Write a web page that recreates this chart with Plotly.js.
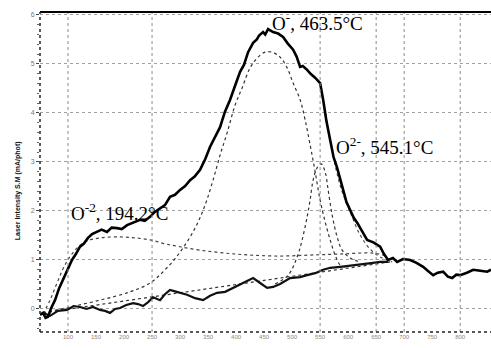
<!DOCTYPE html>
<html>
<head>
<meta charset="utf-8">
<script src="https://cdn.plot.ly/plotly-3.0.1.min.js"></script>
<style>
  html, body { margin: 0; padding: 0; background: #fff; }
  #chart { width: 491px; height: 348px; }
</style>
</head>
<body>
<div id="chart"></div>
<script>
// Temperature-programmed desorption of oxygen species: measured signal with peak fits.

// Measured total signal (upper trace)
const measT = [50, 55.4, 60, 64.3, 70, 76.8, 84, 91.1, 99, 107.1, 114, 121.4, 128, 135.7, 143, 151.8, 160, 169.6, 178, 187.5, 196, 205.4, 216, 228.6, 237, 246.4, 255, 264.3, 273, 282.1, 291, 300, 309, 317.9, 326, 335.7, 345, 353.6, 362, 371.4, 380, 389.3, 398, 407.1, 414, 421.4, 430.4, 437, 441, 448.2, 452, 457.1, 466.1, 475, 483.9, 492, 501.8, 508, 514.3, 519, 526.8, 533, 541, 550, 555.4, 561, 567.9, 574, 580.4, 586, 591.1, 597, 603.6, 610, 616.1, 625, 633.9, 645, 657.1, 664, 671.4, 680, 687.5, 698, 710.7, 722, 733.9, 742, 751.8, 760, 769.6, 778, 785.7, 793, 800, 812, 823.2, 836, 848.2, 855];
const measV = [-0.12, -0.08, -0.18, -0.16, 0.02, 0.18, 0.42, 0.59, 0.80, 1.00, 1.12, 1.27, 1.33, 1.45, 1.53, 1.57, 1.62, 1.57, 1.66, 1.65, 1.63, 1.71, 1.76, 1.82, 1.80, 1.88, 1.98, 2.06, 2.12, 2.29, 2.33, 2.43, 2.51, 2.63, 2.70, 2.84, 3.06, 3.31, 3.50, 3.71, 4.02, 4.27, 4.55, 4.84, 4.98, 5.24, 5.43, 5.50, 5.58, 5.65, 5.60, 5.71, 5.65, 5.62, 5.55, 5.42, 5.29, 5.15, 4.94, 4.96, 4.88, 4.80, 4.72, 4.61, 4.27, 3.85, 3.45, 3.10, 2.88, 2.62, 2.43, 2.18, 2.02, 1.86, 1.76, 1.58, 1.41, 1.36, 1.27, 1.12, 1.00, 1.04, 0.96, 1.02, 1.00, 0.94, 0.86, 0.78, 0.69, 0.74, 0.76, 0.66, 0.63, 0.70, 0.69, 0.74, 0.80, 0.78, 0.76, 0.80];

// Measured lower trace
const lowT = [55.4, 67.9, 82.1, 98.2, 110, 121.4, 133, 144.6, 157.1, 166, 175, 184, 192.9, 204, 216.1, 225, 233.9, 243, 251.8, 264.3, 273, 282.1, 291, 300, 312.5, 326.8, 341.1, 353.6, 366.1, 380.4, 394.6, 407.1, 419.6, 430.4, 442.9, 455.4, 466.1, 478.6, 496.4, 514.3, 526.8, 541.1, 555.4, 567.9, 585.7, 603.6, 616.1, 630.4, 644.6, 657.1, 671.4];
const lowV = [-0.08, -0.14, -0.04, -0.02, 0.06, 0.04, 0.00, 0.04, -0.02, -0.04, -0.08, 0.00, 0.02, 0.08, 0.12, 0.10, 0.06, 0.14, 0.24, 0.18, 0.30, 0.39, 0.36, 0.33, 0.29, 0.22, 0.18, 0.27, 0.33, 0.35, 0.43, 0.49, 0.57, 0.63, 0.53, 0.43, 0.45, 0.51, 0.63, 0.65, 0.69, 0.73, 0.80, 0.84, 0.86, 0.88, 0.90, 0.92, 0.94, 0.96, 0.96];

// Fitted baseline
const baseT = [55.4, 675];
const baseV = [-0.08, 0.96];

// Fitted O(-2) component, 194.2 °C
const fitAT = [55.4, 67.9, 80.4, 94.6, 112.5, 130.4, 157.1, 192.9, 219.6, 246.4, 273.2, 300, 335.7, 380.4, 425, 478.6, 532.1, 585.7, 644.6, 668];
const fitAV = [-0.10, 0.18, 0.53, 0.90, 1.20, 1.37, 1.45, 1.47, 1.45, 1.41, 1.33, 1.27, 1.20, 1.14, 1.10, 1.08, 1.10, 1.12, 1.14, 1.08];

// Fitted O(-) component, 463.5 °C
const fitBT = [55.4, 103.6, 157.1, 210.7, 246.4, 273.2, 300, 326.8, 344.6, 358.9, 371.4, 383.9, 398.2, 410.7, 425, 439.3, 451.8, 464.3, 478.6, 491.1, 501.8, 514.3, 523.2, 532.1, 541.1, 550, 558.9, 567.9, 576.8, 585.7, 600];
const fitBV = [-0.08, 0.04, 0.18, 0.35, 0.53, 0.80, 1.16, 1.65, 2.12, 2.63, 3.14, 3.59, 4.16, 4.51, 4.92, 5.14, 5.24, 5.24, 5.14, 4.92, 4.61, 4.27, 3.86, 3.35, 2.80, 2.22, 1.78, 1.41, 1.10, 0.90, 0.84];

// Fitted O(2-) component, 545.1 °C
const fitCT = [469.6, 492.9, 508.9, 517.9, 526.8, 532.1, 537.5, 544.6, 551.8, 558.9, 564.3, 571.4, 580.4, 589.3, 603.6, 621.4];
const fitCV = [0.51, 0.69, 1.06, 1.41, 1.88, 2.22, 2.63, 2.88, 2.96, 2.80, 2.43, 1.92, 1.47, 1.20, 1.04, 0.96];

// Fitted envelope on the high-temperature side
const envT = [550, 558.9, 567.9, 578.6, 589.3, 603.6, 621.4, 639.3, 657.1, 678.6];
const envV = [4.57, 4.06, 3.45, 2.84, 2.39, 1.98, 1.51, 1.22, 1.06, 0.96];

// Axis ticks and grid positions
const xTicks = [100, 150, 200, 250, 300, 350, 400, 450, 500, 550, 600, 650, 700, 750, 800, 850];
const yTicks = [0, 1, 2, 3, 4, 5, 6];
const yTickText = ['0', '1', '2', '3', '4', '5', '6'];
const xGrid = [100, 250, 550, 650, 700, 800];

const traces = [
  { x: baseT, y: baseV, mode: 'lines', line: { color: '#333', width: 1.2, dash: 'dot' } },
  { x: fitAT, y: fitAV, mode: 'lines', line: { color: '#444', width: 1.2, dash: 'dot', shape: 'spline' } },
  { x: fitBT, y: fitBV, mode: 'lines', line: { color: '#333', width: 1.2, dash: 'dot', shape: 'spline' } },
  { x: fitCT, y: fitCV, mode: 'lines', line: { color: '#333', width: 1.2, dash: 'dot', shape: 'spline' } },
  { x: envT, y: envV, mode: 'lines', line: { color: '#444', width: 1.1, dash: 'dot', shape: 'spline' } },
  { x: lowT, y: lowV, mode: 'lines', line: { color: '#111', width: 2.2 } },
  { x: measT, y: measV, mode: 'lines', line: { color: '#000', width: 2.6 } }
];

const shapes = xGrid.map(v => ({
  type: 'line', xref: 'x', yref: 'paper', x0: v, x1: v, y0: 0, y1: 1,
  line: { color: '#8a8a8a', width: 1, dash: 'dot' }
}));
// frame: solid top, dotted left and bottom
shapes.push({ type: 'line', xref: 'paper', yref: 'paper', x0: 0, x1: 1, y0: 1, y1: 1, line: { color: '#000', width: 2 } });
shapes.push({ type: 'line', xref: 'paper', yref: 'paper', x0: 0, x1: 0, y0: 0, y1: 1, line: { color: '#222', width: 1.5, dash: 'dot' } });
shapes.push({ type: 'line', xref: 'paper', yref: 'paper', x0: 0, x1: 1, y0: 0, y1: 0, line: { color: '#222', width: 1.5, dash: 'dot' } });

const labelFont = { family: 'Liberation Serif, Times New Roman, serif', size: 19, color: '#000' };
const tickFont = { family: 'Liberation Sans, Arial, sans-serif', size: 7, color: '#777' };

const layout = {
  width: 491, height: 348,
  margin: { l: 40, r: 0, t: 12, b: 16 },
  paper_bgcolor: '#fff', plot_bgcolor: '#fff',
  showlegend: false,
  hovermode: false,
  xaxis: {
    range: [50, 855], showgrid: false, zeroline: false, showline: false,
    tickmode: 'array', tickvals: xTicks, ticks: '',
    tickfont: { family: 'Liberation Sans, Arial, sans-serif', size: 6, color: '#888' }
  },
  yaxis: {
    range: [-0.47, 6.06], zeroline: false, showline: false, automargin: false,
    tickmode: 'array', tickvals: yTicks, ticktext: yTickText,
    ticks: 'outside', ticklen: 3, tickcolor: '#444', showticklabels: true,
    minor: { ticks: 'outside', ticklen: 2, tickcolor: '#666', dtick: 0.2, showgrid: false },
    showgrid: true, gridcolor: '#a0a0a0', griddash: 'dot', gridwidth: 1,
    tickfont: tickFont
  },
  shapes: shapes,
  annotations: [
    { x: 460, y: 5.86, xref: 'x', yref: 'y', xanchor: 'left', yanchor: 'middle', showarrow: false,
      text: 'O<sup>-</sup>, 463.5°C', font: labelFont },
    { x: 575, y: 3.33, xref: 'x', yref: 'y', xanchor: 'left', yanchor: 'middle', showarrow: false,
      text: 'O<sup>2-</sup>, 545.1°C', font: labelFont },
    { x: 102, y: 1.98, xref: 'x', yref: 'y', xanchor: 'left', yanchor: 'middle', showarrow: false,
      text: 'O<sup>-2</sup>, 194.2°C', font: labelFont },
    { x: -0.062, y: 0.44, xref: 'paper', yref: 'paper', showarrow: false, textangle: -90,
      text: 'Laser Intensity S.M (mA/phot)',
      font: { family: 'Liberation Sans, Arial, sans-serif', size: 7, color: '#111', weight: 'bold' } }
  ]
};

Plotly.newPlot('chart', traces, layout, { staticPlot: true, displayModeBar: false });
</script>
</body>
</html>
